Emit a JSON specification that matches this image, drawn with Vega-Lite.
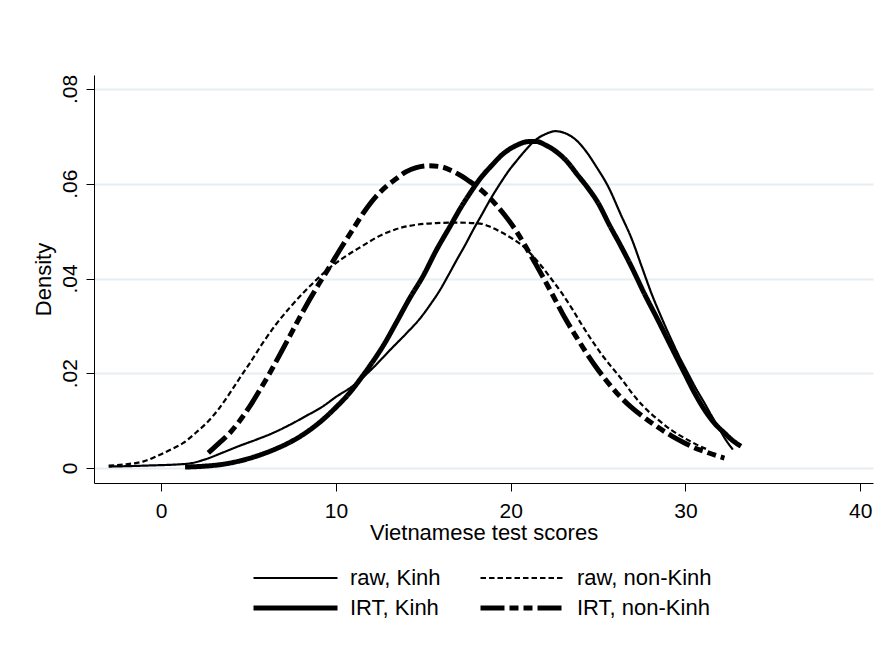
{
  "$schema": "https://vega.github.io/schema/vega-lite/v6.json",
  "width": 779,
  "height": 408,
  "autosize": {"type": "none"},
  "padding": {"left": 94, "top": 75, "right": 10, "bottom": 170},
  "background": "white",
  "config": {
    "font": "Liberation Sans",
    "view": {"stroke": null}
  },
  "data": {
    "values": [
      {"s": "raw, Kinh", "x": -3.0, "y": 0.0003},
      {"s": "raw, Kinh", "x": -1.0, "y": 0.0005},
      {"s": "raw, Kinh", "x": 1.5, "y": 0.0009},
      {"s": "raw, Kinh", "x": 2.5, "y": 0.0018},
      {"s": "raw, Kinh", "x": 3.55, "y": 0.0033},
      {"s": "raw, Kinh", "x": 4.5, "y": 0.0047},
      {"s": "raw, Kinh", "x": 5.45, "y": 0.006},
      {"s": "raw, Kinh", "x": 6.4, "y": 0.0074},
      {"s": "raw, Kinh", "x": 7.35, "y": 0.0091},
      {"s": "raw, Kinh", "x": 8.3, "y": 0.011},
      {"s": "raw, Kinh", "x": 9.25, "y": 0.013},
      {"s": "raw, Kinh", "x": 10.0, "y": 0.015},
      {"s": "raw, Kinh", "x": 10.96, "y": 0.0173},
      {"s": "raw, Kinh", "x": 12.0, "y": 0.0207},
      {"s": "raw, Kinh", "x": 13.2, "y": 0.0253},
      {"s": "raw, Kinh", "x": 14.0, "y": 0.0283},
      {"s": "raw, Kinh", "x": 14.82, "y": 0.0316},
      {"s": "raw, Kinh", "x": 15.4, "y": 0.0345},
      {"s": "raw, Kinh", "x": 15.96, "y": 0.0376},
      {"s": "raw, Kinh", "x": 16.45, "y": 0.0408},
      {"s": "raw, Kinh", "x": 16.91, "y": 0.0439},
      {"s": "raw, Kinh", "x": 17.4, "y": 0.0471},
      {"s": "raw, Kinh", "x": 17.86, "y": 0.0503},
      {"s": "raw, Kinh", "x": 18.35, "y": 0.0535},
      {"s": "raw, Kinh", "x": 18.82, "y": 0.0566},
      {"s": "raw, Kinh", "x": 19.39, "y": 0.06},
      {"s": "raw, Kinh", "x": 19.9, "y": 0.0628},
      {"s": "raw, Kinh", "x": 20.35, "y": 0.0649},
      {"s": "raw, Kinh", "x": 20.85, "y": 0.0671},
      {"s": "raw, Kinh", "x": 21.41, "y": 0.0692},
      {"s": "raw, Kinh", "x": 22.0, "y": 0.0705},
      {"s": "raw, Kinh", "x": 22.55, "y": 0.0711},
      {"s": "raw, Kinh", "x": 23.1, "y": 0.0707},
      {"s": "raw, Kinh", "x": 23.69, "y": 0.0694},
      {"s": "raw, Kinh", "x": 24.26, "y": 0.0671},
      {"s": "raw, Kinh", "x": 24.9, "y": 0.0636},
      {"s": "raw, Kinh", "x": 25.58, "y": 0.0594},
      {"s": "raw, Kinh", "x": 26.3, "y": 0.0535},
      {"s": "raw, Kinh", "x": 26.91, "y": 0.0485},
      {"s": "raw, Kinh", "x": 27.5, "y": 0.0425},
      {"s": "raw, Kinh", "x": 28.05, "y": 0.0369},
      {"s": "raw, Kinh", "x": 28.6, "y": 0.032},
      {"s": "raw, Kinh", "x": 29.19, "y": 0.0271},
      {"s": "raw, Kinh", "x": 29.65, "y": 0.0235},
      {"s": "raw, Kinh", "x": 30.14, "y": 0.02},
      {"s": "raw, Kinh", "x": 30.6, "y": 0.0168},
      {"s": "raw, Kinh", "x": 31.09, "y": 0.0137},
      {"s": "raw, Kinh", "x": 31.5, "y": 0.011},
      {"s": "raw, Kinh", "x": 31.85, "y": 0.0088},
      {"s": "raw, Kinh", "x": 32.3, "y": 0.006},
      {"s": "raw, Kinh", "x": 32.71, "y": 0.0039},

      {"s": "raw, non-Kinh", "x": -3.0, "y": 0.0005},
      {"s": "raw, non-Kinh", "x": -2.0, "y": 0.0008},
      {"s": "raw, non-Kinh", "x": -1.0, "y": 0.0014},
      {"s": "raw, non-Kinh", "x": -0.25, "y": 0.0025},
      {"s": "raw, non-Kinh", "x": 0.5, "y": 0.0038},
      {"s": "raw, non-Kinh", "x": 1.27, "y": 0.0053},
      {"s": "raw, non-Kinh", "x": 2.0, "y": 0.0075},
      {"s": "raw, non-Kinh", "x": 2.6, "y": 0.0095},
      {"s": "raw, non-Kinh", "x": 3.3, "y": 0.0125},
      {"s": "raw, non-Kinh", "x": 3.93, "y": 0.0158},
      {"s": "raw, non-Kinh", "x": 4.5, "y": 0.019},
      {"s": "raw, non-Kinh", "x": 5.07, "y": 0.0221},
      {"s": "raw, non-Kinh", "x": 5.8, "y": 0.0263},
      {"s": "raw, non-Kinh", "x": 6.59, "y": 0.0304},
      {"s": "raw, non-Kinh", "x": 7.35, "y": 0.0338},
      {"s": "raw, non-Kinh", "x": 8.11, "y": 0.0369},
      {"s": "raw, non-Kinh", "x": 8.9, "y": 0.0398},
      {"s": "raw, non-Kinh", "x": 9.63, "y": 0.0422},
      {"s": "raw, non-Kinh", "x": 10.4, "y": 0.0443},
      {"s": "raw, non-Kinh", "x": 11.53, "y": 0.0469},
      {"s": "raw, non-Kinh", "x": 12.5, "y": 0.049},
      {"s": "raw, non-Kinh", "x": 13.43, "y": 0.0504},
      {"s": "raw, non-Kinh", "x": 14.5, "y": 0.0513},
      {"s": "raw, non-Kinh", "x": 15.71, "y": 0.0517},
      {"s": "raw, non-Kinh", "x": 17.0, "y": 0.0518},
      {"s": "raw, non-Kinh", "x": 18.25, "y": 0.0516},
      {"s": "raw, non-Kinh", "x": 18.9, "y": 0.0508},
      {"s": "raw, non-Kinh", "x": 19.5, "y": 0.0497},
      {"s": "raw, non-Kinh", "x": 20.1, "y": 0.0484},
      {"s": "raw, non-Kinh", "x": 20.65, "y": 0.047},
      {"s": "raw, non-Kinh", "x": 21.2, "y": 0.045},
      {"s": "raw, non-Kinh", "x": 21.79, "y": 0.0425},
      {"s": "raw, non-Kinh", "x": 22.35, "y": 0.0398},
      {"s": "raw, non-Kinh", "x": 22.93, "y": 0.0369},
      {"s": "raw, non-Kinh", "x": 23.5, "y": 0.0337},
      {"s": "raw, non-Kinh", "x": 24.06, "y": 0.0303},
      {"s": "raw, non-Kinh", "x": 24.6, "y": 0.0272},
      {"s": "raw, non-Kinh", "x": 25.2, "y": 0.024},
      {"s": "raw, non-Kinh", "x": 25.8, "y": 0.0212},
      {"s": "raw, non-Kinh", "x": 26.34, "y": 0.0188},
      {"s": "raw, non-Kinh", "x": 26.9, "y": 0.016},
      {"s": "raw, non-Kinh", "x": 27.6, "y": 0.013},
      {"s": "raw, non-Kinh", "x": 28.43, "y": 0.0102},
      {"s": "raw, non-Kinh", "x": 29.2, "y": 0.008},
      {"s": "raw, non-Kinh", "x": 29.95, "y": 0.0063},
      {"s": "raw, non-Kinh", "x": 30.5, "y": 0.0052},
      {"s": "raw, non-Kinh", "x": 31.2, "y": 0.004},

      {"s": "IRT, Kinh", "x": 1.37, "y": 0.0002},
      {"s": "IRT, Kinh", "x": 2.5, "y": 0.0004},
      {"s": "IRT, Kinh", "x": 3.55, "y": 0.0008},
      {"s": "IRT, Kinh", "x": 4.5, "y": 0.0015},
      {"s": "IRT, Kinh", "x": 5.45, "y": 0.0025},
      {"s": "IRT, Kinh", "x": 6.4, "y": 0.0038},
      {"s": "IRT, Kinh", "x": 7.35, "y": 0.0054},
      {"s": "IRT, Kinh", "x": 8.3, "y": 0.0075},
      {"s": "IRT, Kinh", "x": 9.25, "y": 0.0102},
      {"s": "IRT, Kinh", "x": 10.0, "y": 0.0128},
      {"s": "IRT, Kinh", "x": 10.77, "y": 0.0158},
      {"s": "IRT, Kinh", "x": 11.4, "y": 0.0188},
      {"s": "IRT, Kinh", "x": 11.91, "y": 0.0214},
      {"s": "IRT, Kinh", "x": 12.72, "y": 0.0259},
      {"s": "IRT, Kinh", "x": 13.5, "y": 0.031},
      {"s": "IRT, Kinh", "x": 14.2, "y": 0.0357},
      {"s": "IRT, Kinh", "x": 15.0, "y": 0.0406},
      {"s": "IRT, Kinh", "x": 15.75, "y": 0.046},
      {"s": "IRT, Kinh", "x": 16.53, "y": 0.051},
      {"s": "IRT, Kinh", "x": 17.2, "y": 0.0553},
      {"s": "IRT, Kinh", "x": 17.67, "y": 0.058},
      {"s": "IRT, Kinh", "x": 18.3, "y": 0.0613},
      {"s": "IRT, Kinh", "x": 18.9, "y": 0.0638},
      {"s": "IRT, Kinh", "x": 19.5, "y": 0.0661},
      {"s": "IRT, Kinh", "x": 20.27, "y": 0.068},
      {"s": "IRT, Kinh", "x": 21.03, "y": 0.0689},
      {"s": "IRT, Kinh", "x": 21.5, "y": 0.0689},
      {"s": "IRT, Kinh", "x": 21.98, "y": 0.0682},
      {"s": "IRT, Kinh", "x": 22.6, "y": 0.0668},
      {"s": "IRT, Kinh", "x": 23.2, "y": 0.0648},
      {"s": "IRT, Kinh", "x": 23.8, "y": 0.062},
      {"s": "IRT, Kinh", "x": 24.4, "y": 0.0592},
      {"s": "IRT, Kinh", "x": 25.01, "y": 0.0559},
      {"s": "IRT, Kinh", "x": 25.65, "y": 0.0513},
      {"s": "IRT, Kinh", "x": 26.34, "y": 0.0466},
      {"s": "IRT, Kinh", "x": 26.91, "y": 0.0425},
      {"s": "IRT, Kinh", "x": 27.65, "y": 0.0368},
      {"s": "IRT, Kinh", "x": 28.43, "y": 0.0312},
      {"s": "IRT, Kinh", "x": 29.2, "y": 0.0255},
      {"s": "IRT, Kinh", "x": 29.95, "y": 0.02},
      {"s": "IRT, Kinh", "x": 30.5, "y": 0.016},
      {"s": "IRT, Kinh", "x": 31.09, "y": 0.0123},
      {"s": "IRT, Kinh", "x": 31.65, "y": 0.0095},
      {"s": "IRT, Kinh", "x": 32.23, "y": 0.0074},
      {"s": "IRT, Kinh", "x": 32.7, "y": 0.0058},
      {"s": "IRT, Kinh", "x": 33.18, "y": 0.0046},

      {"s": "IRT, non-Kinh", "x": 2.7, "y": 0.0032},
      {"s": "IRT, non-Kinh", "x": 3.3, "y": 0.0052},
      {"s": "IRT, non-Kinh", "x": 3.93, "y": 0.0074},
      {"s": "IRT, non-Kinh", "x": 4.5, "y": 0.01},
      {"s": "IRT, non-Kinh", "x": 5.07, "y": 0.013},
      {"s": "IRT, non-Kinh", "x": 5.65, "y": 0.0165},
      {"s": "IRT, non-Kinh", "x": 6.21, "y": 0.02},
      {"s": "IRT, non-Kinh", "x": 6.8, "y": 0.024},
      {"s": "IRT, non-Kinh", "x": 7.35, "y": 0.0278},
      {"s": "IRT, non-Kinh", "x": 7.9, "y": 0.0316},
      {"s": "IRT, non-Kinh", "x": 8.49, "y": 0.0355},
      {"s": "IRT, non-Kinh", "x": 9.05, "y": 0.039},
      {"s": "IRT, non-Kinh", "x": 9.63, "y": 0.0424},
      {"s": "IRT, non-Kinh", "x": 10.3, "y": 0.0465},
      {"s": "IRT, non-Kinh", "x": 10.96, "y": 0.0503},
      {"s": "IRT, non-Kinh", "x": 11.6, "y": 0.054},
      {"s": "IRT, non-Kinh", "x": 12.29, "y": 0.0573},
      {"s": "IRT, non-Kinh", "x": 12.9, "y": 0.0595},
      {"s": "IRT, non-Kinh", "x": 13.43, "y": 0.061},
      {"s": "IRT, non-Kinh", "x": 14.0, "y": 0.0625},
      {"s": "IRT, non-Kinh", "x": 14.6, "y": 0.0634},
      {"s": "IRT, non-Kinh", "x": 15.33, "y": 0.0638},
      {"s": "IRT, non-Kinh", "x": 16.0, "y": 0.0636},
      {"s": "IRT, non-Kinh", "x": 16.6, "y": 0.0628},
      {"s": "IRT, non-Kinh", "x": 17.2, "y": 0.0616},
      {"s": "IRT, non-Kinh", "x": 17.61, "y": 0.0606},
      {"s": "IRT, non-Kinh", "x": 18.37, "y": 0.0585},
      {"s": "IRT, non-Kinh", "x": 19.13, "y": 0.0557},
      {"s": "IRT, non-Kinh", "x": 19.7, "y": 0.0532},
      {"s": "IRT, non-Kinh", "x": 20.27, "y": 0.0503},
      {"s": "IRT, non-Kinh", "x": 20.85, "y": 0.0468},
      {"s": "IRT, non-Kinh", "x": 21.41, "y": 0.0432},
      {"s": "IRT, non-Kinh", "x": 22.0, "y": 0.0393},
      {"s": "IRT, non-Kinh", "x": 22.55, "y": 0.0355},
      {"s": "IRT, non-Kinh", "x": 23.1, "y": 0.0317},
      {"s": "IRT, non-Kinh", "x": 23.7, "y": 0.028},
      {"s": "IRT, non-Kinh", "x": 24.3, "y": 0.0245},
      {"s": "IRT, non-Kinh", "x": 24.83, "y": 0.0216},
      {"s": "IRT, non-Kinh", "x": 25.4, "y": 0.0188},
      {"s": "IRT, non-Kinh", "x": 26.1, "y": 0.0157},
      {"s": "IRT, non-Kinh", "x": 26.91, "y": 0.0128},
      {"s": "IRT, non-Kinh", "x": 27.7, "y": 0.0105},
      {"s": "IRT, non-Kinh", "x": 28.43, "y": 0.0086},
      {"s": "IRT, non-Kinh", "x": 29.2, "y": 0.0068},
      {"s": "IRT, non-Kinh", "x": 29.95, "y": 0.0053},
      {"s": "IRT, non-Kinh", "x": 30.5, "y": 0.0043},
      {"s": "IRT, non-Kinh", "x": 31.09, "y": 0.0035},
      {"s": "IRT, non-Kinh", "x": 31.7, "y": 0.0027},
      {"s": "IRT, non-Kinh", "x": 32.23, "y": 0.0021}
    ]
  },
  "mark": {"type": "line", "interpolate": "monotone", "color": "black"},
  "encoding": {
    "x": {
      "field": "x",
      "type": "quantitative",
      "scale": {"domain": [-3.84, 40.73], "nice": false, "zero": false},
      "axis": {
        "values": [0, 10, 20, 30, 40],
        "grid": false,
        "title": "Vietnamese test scores",
        "titleFontSize": 22,
        "titleFontWeight": "normal",
        "titleColor": "black",
        "titleBaseline": "alphabetic",
        "titleY": 56,
        "labelFontSize": 21,
        "labelColor": "black",
        "labelPadding": 9,
        "labelFlush": false,
        "tickSize": 8,
        "tickColor": "black",
        "domainColor": "black",
        "domainWidth": 1
      }
    },
    "y": {
      "field": "y",
      "type": "quantitative",
      "scale": {"domain": [-0.00316, 0.08296], "nice": false, "zero": false},
      "axis": {
        "values": [0, 0.02, 0.04, 0.06, 0.08],
        "labelExpr": "datum.value == 0 ? '0' : replace(format(datum.value, '.2f'), '0.', '.')",
        "grid": true,
        "gridColor": "#e6eef1",
        "gridWidth": 2,
        "title": "Density",
        "titleFontSize": 22,
        "titleFontWeight": "normal",
        "titleColor": "black",
        "titleAngle": 270,
        "titleBaseline": "alphabetic",
        "titleAlign": "center",
        "titleX": -44,
        "titleY": 204,
        "labelFontSize": 21,
        "labelColor": "black",
        "labelAngle": 270,
        "labelAlign": "center",
        "labelBaseline": "alphabetic",
        "labelPadding": 10,
        "labelFlush": false,
        "tickSize": 8,
        "tickColor": "black",
        "domainColor": "black",
        "domainWidth": 1
      }
    },
    "strokeDash": {
      "field": "s",
      "type": "nominal",
      "scale": {
        "domain": ["raw, Kinh", "IRT, Kinh", "raw, non-Kinh", "IRT, non-Kinh"],
        "range": [[1, 0], [1, 0], [5.5, 3], [24, 5, 9, 5, 9, 5]]
      },
      "legend": {
        "title": null,
        "orient": "none",
        "legendX": 157,
        "legendY": 489,
        "padding": 0,
        "columns": 2,
        "columnPadding": 37,
        "rowPadding": 2,
        "clipHeight": 28,
        "symbolType": "stroke",
        "symbolSize": 7056,
        "symbolStrokeColor": "black",
        "labelFontSize": 22,
        "labelColor": "black",
        "labelOffset": 10,
        "labelLimit": 300
      }
    },
    "strokeWidth": {
      "field": "s",
      "type": "nominal",
      "scale": {
        "type": "ordinal",
        "domain": ["raw, Kinh", "IRT, Kinh", "raw, non-Kinh", "IRT, non-Kinh"],
        "range": [2.2, 5, 2.2, 5]
      },
      "legend": {
        "title": null,
        "orient": "none",
        "legendX": 157,
        "legendY": 489,
        "padding": 0,
        "columns": 2,
        "columnPadding": 37,
        "rowPadding": 2,
        "clipHeight": 28,
        "symbolType": "stroke",
        "symbolSize": 7056,
        "symbolStrokeColor": "black",
        "labelFontSize": 22,
        "labelColor": "black",
        "labelOffset": 10,
        "labelLimit": 300
      }
    }
  }
}
